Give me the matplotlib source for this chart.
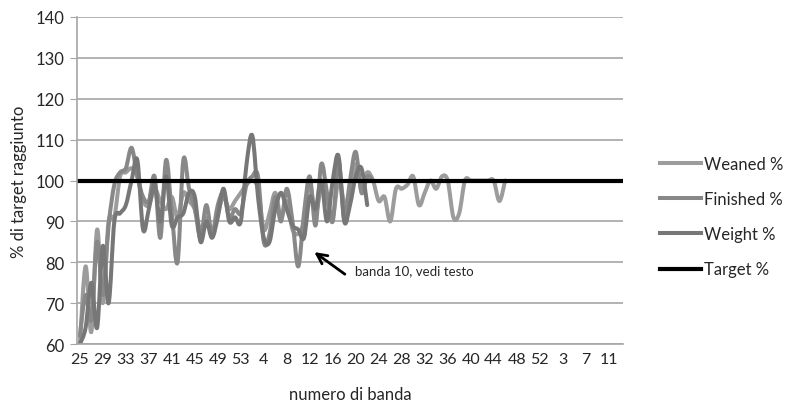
import numpy as np
import matplotlib
matplotlib.use("Agg")
import matplotlib.pyplot as plt
from matplotlib.path import Path
from matplotlib.patches import PathPatch
from matplotlib.lines import Line2D

plt.rcParams['font.family'] = ['Lato', 'DejaVu Sans']

# settimane: 25..53, poi 1..53, poi 1..13
weeks = list(range(25, 54)) + list(range(1, 54)) + list(range(1, 14))

weaned = [60, 79, 63, 88, 70, 90, 91, 101, 102, 103, 101, 95, 94, 98, 95, 93,
          96, 91, 97, 95, 93, 88, 91, 87, 92, 96, 93, 95, 97, 99, 100, 98,
          88, 92, 97, 91, 95, 88, 87, 90, 99, 92, 98, 95, 91, 100, 95, 96,
          104, 98, 102, 100, 95, 96, 90, 98, 98, 99, 101, 94, 97, 100, 98,
          101, 100, 91, 92, 100, 100, 100, 100, 100, 100, 95, 100]
finished = [62, 72, 66, 85, 72, 89, 99, 102, 103, 108, 101, 96, 95, 101, 86,
            105, 92, 80, 105, 98, 93, 86, 94, 87, 94, 97, 91, 93, 92, 99, 101,
            101, 85, 87, 96, 90, 98, 90, 79, 92, 101, 89, 104, 97, 90, 105, 91,
            100, 107, 97, 101, 100]
weight = [60, 64, 75, 64, 84, 70, 90, 92, 94, 100, 105, 88, 93, 99, 90, 101,
          89, 91, 92, 97, 96, 85, 90, 86, 91, 98, 90, 91, 90, 104, 111, 96,
          86, 85, 93, 97, 93, 89, 88, 86, 96, 93, 100, 90, 100, 106, 90, 94,
          101, 103, 94]
target = 100


def smooth_path(vals):
    # linea "smussata" come in Excel: curve di Bezier che passano per i punti
    p = np.column_stack([np.arange(len(vals)), vals]).astype(float)
    verts = [p[0]]
    codes = [Path.MOVETO]
    n = len(p)
    for i in range(n - 1):
        p0 = p[max(i - 1, 0)]
        p1, p2 = p[i], p[i + 1]
        p3 = p[min(i + 2, n - 1)]
        verts += [p1 + (p2 - p0) / 6, p2 - (p3 - p1) / 6, p2]
        codes += [Path.CURVE4] * 3
    return Path(verts, codes)


fig = plt.figure(figsize=(7.92, 4.06), dpi=100)
ax = fig.add_axes([0.0972, 0.150, 0.6894, 0.8057])

series = [("Weaned %", weaned, "#9c9c9c"),
          ("Finished %", finished, "#888888"),
          ("Weight %", weight, "#777777")]
handles = []
for name, vals, col in series:
    ax.add_patch(PathPatch(smooth_path(vals), facecolor='none', edgecolor=col,
                           lw=2.9, joinstyle='round', capstyle='round'))
    handles.append(Line2D([], [], color=col, lw=2.9, label=name))
ax.axhline(target, color='black', lw=3, label='Target %')
handles.append(Line2D([], [], color='black', lw=3, label='Target %'))

ax.set_xlim(-0.5, len(weeks) - 0.5)
ax.set_ylim(60, 140)
ax.set_yticks(range(60, 141, 10))
ticks = np.arange(0, len(weeks), 4)
ax.set_xticks(ticks)
ax.set_xticklabels([str(weeks[i]) for i in ticks])

ax.grid(axis='y', color='#a6a6a6', lw=1.2)
ax.set_axisbelow(True)
for s in ['top', 'right']:
    ax.spines[s].set_visible(False)
for s in ['left', 'bottom']:
    ax.spines[s].set_color('#a6a6a6')
    ax.spines[s].set_linewidth(1.2)
ax.tick_params(axis='y', length=5, color='#a6a6a6', labelsize=12, pad=4,
               labelcolor='#262626')
ax.tick_params(axis='x', length=0, labelsize=11.5, pad=6, labelcolor='#262626')

ax.set_xlabel("numero di banda", fontsize=12, color='#262626', labelpad=14)
ax.set_ylabel("% di target raggiunto", fontsize=12, color='#262626', labelpad=6)

ax.annotate('', xy=(40.4, 82.9), xytext=(46.5, 76.7),
            arrowprops=dict(arrowstyle='->', color='black', lw=2,
                            mutation_scale=18))
ax.text(47.9, 78.0, "banda 10, vedi testo", fontsize=9.5, color='#262626',
        ha='left', va='center')

fig.legend(handles=handles, loc='center left', bbox_to_anchor=(0.833, 0.464),
           frameon=False, borderaxespad=0, borderpad=0, handlelength=2.5,
           handletextpad=0.15, labelspacing=1.15, fontsize=12,
           labelcolor='#262626')

fig.savefig("out.png", dpi=100)
